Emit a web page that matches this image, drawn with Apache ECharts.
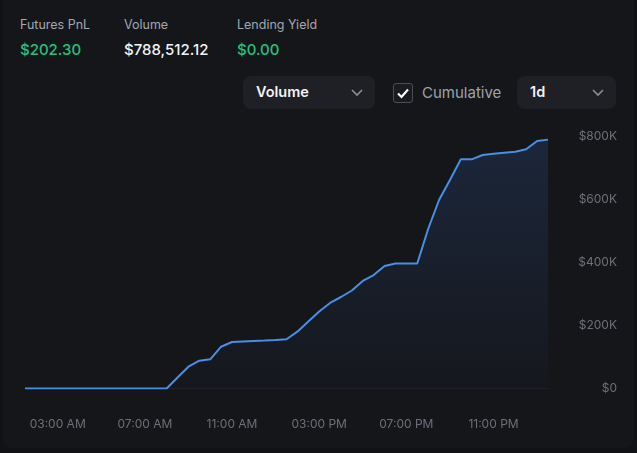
<!DOCTYPE html>
<html>
<head>
<meta charset="utf-8">
<script src="https://cdn.jsdelivr.net/npm/echarts@6/dist/echarts.min.js"></script>
<style>
  html, body { margin:0; padding:0; width:637px; height:453px; background:#111216; overflow:hidden; font-family: Inter, "Noto Sans", sans-serif; }
  .card { position:absolute; left:3px; top:0; width:631px; height:448px; background:#15161a; border-radius:0 0 10px 10px; }
  .stat { position:absolute; top:17px; }
  .stat .lbl { font-size:12.5px; color:#a3a7b0; line-height:16px; }
  .stat .val { font-size:15px; font-weight:500; line-height:20px; margin-top:7px; }
  .green { color:#22c27a; }
  .white { color:#f2f3f5; }
  .dd { position:absolute; top:76px; height:33px; background:#1f2025; border-radius:8px; }
  .dd span { position:absolute; left:13px; top:7px; font-size:14.5px; font-weight:600; color:#f2f3f5; }
  .dd svg { position:absolute; top:12px; }
  .cb { position:absolute; left:393px; top:83px; width:18px; height:18px; border:1px solid #4a4d55; border-radius:3px; background:#1a1b20; }
  .cbl { position:absolute; left:422px; top:83px; font-size:15px; color:#9ea2ac; }
  #chart { position:absolute; left:0; top:0; width:637px; height:453px; }
</style>
</head>
<body>
<div class="card"></div>
<div class="stat" style="left:20px"><div class="lbl">Futures PnL</div><div class="val green">$202.30</div></div>
<div class="stat" style="left:124px"><div class="lbl">Volume</div><div class="val white">$788,512.12</div></div>
<div class="stat" style="left:237px"><div class="lbl">Lending Yield</div><div class="val green">$0.00</div></div>
<div class="dd" style="left:243px;width:132px"><span>Volume</span>
  <svg style="left:107px" width="14" height="10" viewBox="0 0 14 10"><path d="M2 2 L7 7 L12 2" stroke="#8a8e97" stroke-width="1.6" fill="none"/></svg></div>
<div class="cb"><svg width="18" height="18" viewBox="0 0 18 18"><path d="M4 9.5 L7.5 13 L14 5.5" stroke="#ffffff" stroke-width="2.2" fill="none"/></svg></div>
<div class="cbl">Cumulative</div>
<div class="dd" style="left:517px;width:99px"><span>1d</span>
  <svg style="left:74px" width="14" height="10" viewBox="0 0 14 10"><path d="M2 2 L7 7 L12 2" stroke="#8a8e97" stroke-width="1.6" fill="none"/></svg></div>
<div id="chart"></div>
<script>
// half-hourly timestamps from 01:30 AM to 01:30 AM next day
const categories = [
  "01:30 AM","02:00 AM","02:30 AM","03:00 AM","03:30 AM","04:00 AM","04:30 AM","05:00 AM",
  "05:30 AM","06:00 AM","06:30 AM","07:00 AM","07:30 AM","08:00 AM","08:30 AM","09:00 AM",
  "09:30 AM","10:00 AM","10:30 AM","11:00 AM","11:30 AM","12:00 PM","12:30 PM","01:00 PM",
  "01:30 PM","02:00 PM","02:30 PM","03:00 PM","03:30 PM","04:00 PM","04:30 PM","05:00 PM",
  "05:30 PM","06:00 PM","06:30 PM","07:00 PM","07:30 PM","08:00 PM","08:30 PM","09:00 PM",
  "09:30 PM","10:00 PM","10:30 PM","11:00 PM","11:30 PM","12:00 AM","12:30 AM","01:00 AM",
  "01:30 AM "
];
const volume = [
  0,0,0,0,0,0,0,0,0,0,0,0,0,0,
  35000,69100,88100,92500,132400,147300,148900,150500,152000,153600,
  156200,180000,212300,243900,270900,289900,310500,340600,359600,388100,
  396000,396000,396000,505300,597200,660500,726100,726100,739700,743800,
  747000,750200,757800,784100,788512
];
const yTicks = [0, 200000, 400000, 600000, 800000];
const shownLabels = ["03:00 AM","07:00 AM","11:00 AM","03:00 PM","07:00 PM","11:00 PM"];

const chart = echarts.init(document.getElementById('chart'), null, {renderer:'canvas'});
chart.setOption({
  backgroundColor: 'transparent',
  animation: false,
  grid: { left: 25, right: 89, top: 136, bottom: 64.5 },
  xAxis: {
    type: 'category',
    data: categories,
    boundaryGap: false,
    axisLine: { show: true, lineStyle: { color: '#1e2026', width: 1 } },
    axisTick: { show: false },
    axisLabel: {
      color: '#6d7079', fontSize: 12, fontFamily: 'Inter', margin: 30,
      interval: (i, v) => shownLabels.includes(v),
      formatter: v => v
    },
    splitLine: { show: false }
  },
  yAxis: {
    type: 'value',
    position: 'right',
    min: yTicks[0], max: yTicks[yTicks.length-1], interval: 200000,
    axisLine: { show: false }, axisTick: { show: false },
    splitLine: { show: false },
    axisLabel: {
      color: '#6d7079', fontSize: 12, fontFamily: 'Inter',
      align: 'right', margin: 69,
      formatter: v => v === 0 ? '$0' : '$' + (v/1000) + 'K'
    }
  },
  series: [{
    type: 'line',
    data: volume,
    symbol: 'none',
    lineStyle: { color: '#4a8ee6', width: 2 },
    itemStyle: { color: '#4a8ee6' },
    areaStyle: {
      color: new echarts.graphic.LinearGradient(0, 0, 0, 1, [
        { offset: 0, color: 'rgba(40,66,112,0.55)' },
        { offset: 1, color: 'rgba(40,66,112,0.06)' }
      ])
    }
  }]
});
</script>
</body>
</html>
